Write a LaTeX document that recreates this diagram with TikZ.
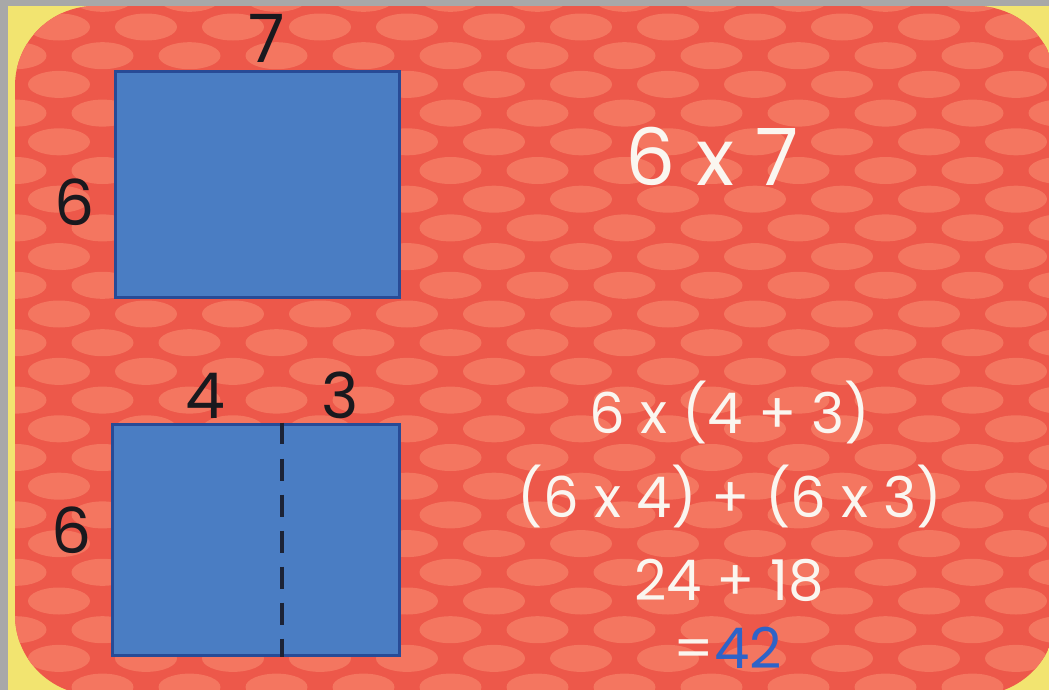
\documentclass[tikz,border=0pt]{standalone}
\usepackage{fontspec}
\setmainfont{Poppins}
\usetikzlibrary{positioning}

\definecolor{gris}{RGB}{168,168,168}
\definecolor{jaune}{RGB}{242,228,112}
\definecolor{rouge}{RGB}{237,88,74}
\definecolor{saumon}{RGB}{244,118,96}
\definecolor{bleu}{RGB}{74,125,195}
\definecolor{bleufonce}{RGB}{40,75,150}
\definecolor{bleuvif}{RGB}{46,99,200}
\definecolor{encre}{RGB}{25,25,30}
\definecolor{craie}{RGB}{250,246,240}

\tikzset{
bloc/.style={draw=bleufonce,fill=bleu,line width=1.7pt,inner sep=0pt},
coupe/.style={draw=encre!80!bleufonce,line width=2.3pt,dash pattern=on 12.5pt off 8pt},
cote/.style={text=encre,anchor=base,font=\fontsize{36}{36}\selectfont},
calcul/.style={text=craie,anchor=base,font=\fontsize{32}{32}\selectfont}
}

\begin{document}
\begin{tikzpicture}[x=0.02cm,y=-0.02cm]

\useasboundingbox (0,0) rectangle (1049,690);

% Fond
\fill[gris] (0,0) rectangle (1049,690);
\fill[jaune] (8,6) rectangle (1049,690);
\begin{scope}
\clip[rounded corners=1.6cm] (15,6) rectangle (1056,695);
\fill[rouge] (15,6) rectangle (1056,695);
\foreach \j in {0,...,25}
{
\pgfmathsetmacro{\dx}{15.5+43.5*mod(\j,2)}
\foreach \i in {-1,...,12}
{
\fill[saumon] (\dx+87*\i,-1.7+28.7*\j) ellipse (31 and 13.5);
}
}
\end{scope}

% Rectangle 6 x 7
\node[bloc,
minimum width=5.7cm,
minimum height=4.54cm]
(haut)
at (257.5,184.5)
{};

\node[cote,font=\fontsize{38}{38}\selectfont] (l7) at (267,62) {7};
\node[cote] (l6h) at (75,225) {6};

% Rectangle coupe en 4 + 3
\node[bloc,
minimum width=5.76cm,
minimum height=4.64cm]
(bas)
at (256,540)
{};

\path (bas.north west) -- (bas.north east) coordinate[pos=0.59] (coupeH);
\path (bas.south west) -- (bas.south east) coordinate[pos=0.59] (coupeB);
\draw[coupe] (coupeH) -- (coupeB);

\node[cote] (l4) at (205,418) {4};
\node[cote] (l3) at (340,418) {3};
\node[cote] (l6b) at (72,553) {6};

% Calculs
\node[calcul,font=\fontsize{45}{45}\selectfont] (c1) at (712,185) {6 x 7};
\node[calcul] (c2) at (730,433) {6 x (4 + 3)};
\node[calcul] (c3) at (730,517) {(6 x 4) + (6 x 3)};
\node[calcul] (c4) at (729,600) {24 + 18};
\node[calcul,inner sep=1pt] (c5) at (728,668) {=\textcolor{bleuvif}{42}};

\end{tikzpicture}
\end{document}
